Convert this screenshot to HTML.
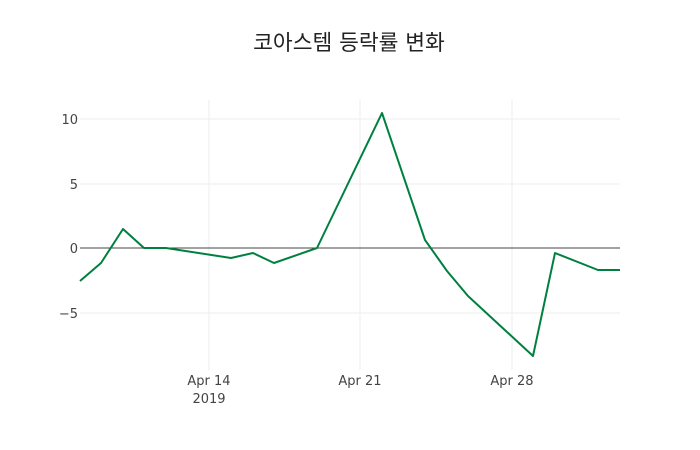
<!DOCTYPE html>
<html><head><meta charset="utf-8"><style>
body{margin:0;background:#fff}
svg{display:block}
text{font-family:"DejaVu Sans","Noto Sans CJK KR",sans-serif;fill:#444}
</style></head><body>
<svg width="700" height="450" viewBox="0 0 700 450">
<rect width="700" height="450" fill="#fff"/>
<g stroke="#eee" stroke-width="1">
<line x1="80" x2="620" y1="119" y2="119"/>
<line x1="80" x2="620" y1="184" y2="184"/>
<line x1="80" x2="620" y1="313" y2="313"/>
<line x1="209" x2="209" y1="100" y2="370"/>
<line x1="360" x2="360" y1="100" y2="370"/>
<line x1="512" x2="512" y1="100" y2="370"/>
</g>
<line x1="80" x2="620" y1="248" y2="248" stroke="#444" stroke-width="1"/>
<polyline fill="none" stroke="#008040" stroke-width="2" stroke-linejoin="round" points="80,281 101,263 123,229 144,248 166,248 231,258 253,253 274,263 317,248 382,113 425,240 447,271 468,296 533,356 555,253 598,270 620,270"/>
<text x="349" y="50" text-anchor="middle" font-size="21.5" style="fill:#222">코아스템 등락률 변화</text>
<g font-size="13" text-anchor="end">
<text x="78" y="124">10</text>
<text x="78" y="189">5</text>
<text x="78" y="253">0</text>
<text x="78" y="318">−5</text>
</g>
<g font-size="13" text-anchor="middle">
<text x="209" y="385">Apr 14</text>
<text x="209" y="403">2019</text>
<text x="360" y="385">Apr 21</text>
<text x="512" y="385">Apr 28</text>
</g>
</svg>
</body></html>
